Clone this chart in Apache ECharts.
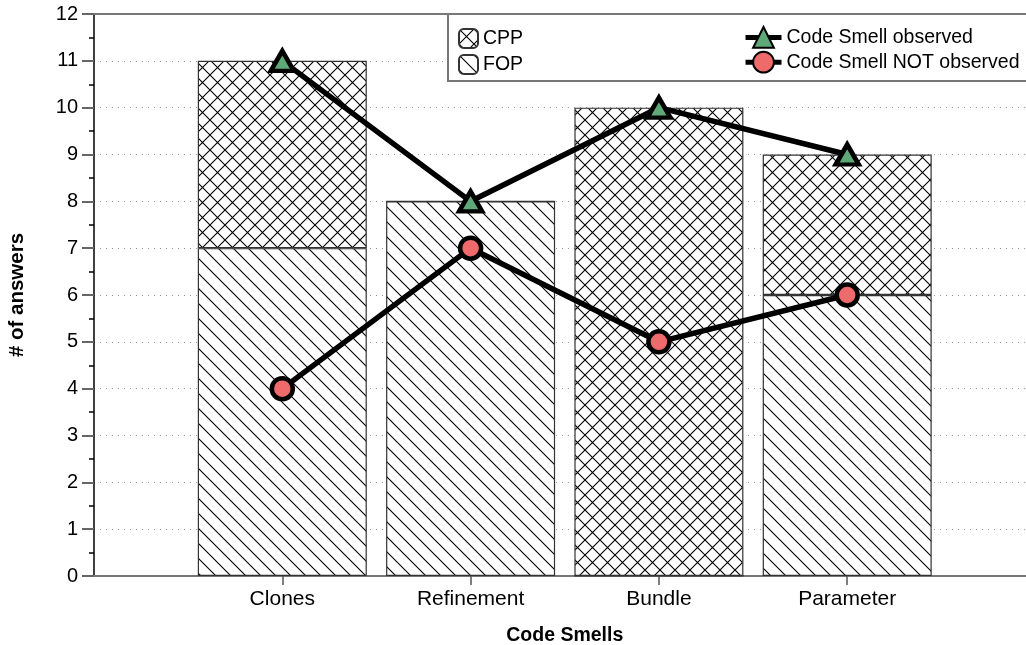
<!DOCTYPE html>
<html>
<head>
<meta charset="utf-8">
<script src="https://cdn.jsdelivr.net/npm/echarts@6/dist/echarts.min.js"></script>
<style>
  html, body { margin: 0; padding: 0; background: #fff; }
  #chart { width: 1026px; height: 645px; }
</style>
</head>
<body>
<div id="chart"></div>
<script>
// Survey answers per code smell
const smells = ['Clones', 'Refinement', 'Bundle', 'Parameter'];
const fopAnswers = [7, 8, 0, 6];
const cppAnswers = [4, 0, 10, 3];
const smellObserved = [11, 8, 10, 9];
const smellNotObserved = [4, 7, 5, 6];
const yTicks = [0, 1, 2, 3, 4, 5, 6, 7, 8, 9, 10, 11, 12];

// empty slots on both sides leave room between the axis and the first/last bar
const pad = arr => [null, ...arr, null];
const cats = ['', ...smells, ''];

const FONT = '"Liberation Sans", Arial, Helvetica, sans-serif';

// hatch tiles: "\" lines for FOP, crossed lines for CPP
function hatch(cross) {
  const s = 15;
  const c = document.createElement('canvas');
  c.width = s; c.height = s;
  const g = c.getContext('2d');
  g.fillStyle = '#fff';
  g.fillRect(0, 0, s, s);
  g.strokeStyle = '#000';
  g.lineWidth = 1.1;
  g.beginPath();
  g.moveTo(-2, -2); g.lineTo(s + 2, s + 2);
  g.moveTo(-2, s - 2); g.lineTo(2, s + 2);
  g.moveTo(s - 2, -2); g.lineTo(s + 2, 2);
  if (cross) {
    g.moveTo(s + 2, -2); g.lineTo(-2, s + 2);
    g.moveTo(2, -2); g.lineTo(-2, 2);
    g.moveTo(s + 2, s - 2); g.lineTo(s - 2, s + 2);
  }
  g.stroke();
  return { image: c, repeat: 'repeat' };
}

const chart = echarts.init(document.getElementById('chart'), null, { renderer: 'canvas' });

chart.setOption({
  animation: false,
  backgroundColor: '#fff',
  textStyle: { fontFamily: FONT },
  grid: { left: 94, right: -9.5, top: 14, bottom: 69, containLabel: false, outerBoundsMode: 'none' },
  graphic: [{
    type: 'rect',
    z: 3,
    shape: { x: 448, y: 14, width: 600, height: 67 },
    style: { fill: '#fff', stroke: '#777', lineWidth: 2 }
  }],
  legend: [{
    data: ['CPP', 'FOP'],
    orient: 'vertical',
    left: 453, top: 23,
    itemWidth: 19, itemHeight: 19, itemGap: 5,
    icon: 'roundRect',
    z: 5,
    textStyle: { fontFamily: FONT, fontSize: 19.5, color: '#000' }
  }, {
    data: ['Code Smell observed', 'Code Smell NOT observed'],
    orient: 'vertical',
    left: 738, top: 21,
    itemWidth: 36, itemHeight: 26, itemGap: 2,
    z: 5,
    lineStyle: { width: 5, color: '#000' },
    textStyle: { fontFamily: FONT, fontSize: 19.5, color: '#000' }
  }],
  xAxis: [{
    type: 'category',
    data: cats,
    boundaryGap: false,
    axisLine: { lineStyle: { color: '#777', width: 2 } },
    axisTick: {
      interval: i => i >= 1 && i <= smells.length,
      length: 9,
      lineStyle: { color: '#555', width: 1.5 }
    },
    axisLabel: {
      interval: 0,
      margin: 13,
      fontFamily: FONT, fontSize: 21, color: '#000'
    },
    splitLine: { show: false },
    name: 'Code Smells',
    nameLocation: 'middle',
    nameGap: 50,
    nameTextStyle: { fontFamily: FONT, fontSize: 19.5, fontWeight: 'bold', color: '#000' }
  }, {
    type: 'category',
    data: cats,
    boundaryGap: false,
    position: 'top',
    axisLine: { lineStyle: { color: '#777', width: 2 } },
    axisTick: { show: false },
    axisLabel: { show: false },
    splitLine: { show: false }
  }],
  yAxis: {
    type: 'value',
    min: yTicks[0],
    max: yTicks[yTicks.length - 1],
    interval: 1,
    axisLine: { show: true, lineStyle: { color: '#000', width: 1.5 } },
    axisTick: { show: true, length: 12, lineStyle: { color: '#666', width: 2 } },
    minorTick: { show: true, splitNumber: 2, length: 5, lineStyle: { color: '#000', width: 1.5 } },
    axisLabel: {
      margin: 16,
      fontFamily: FONT, fontSize: 20, color: '#000',
      formatter: v => (yTicks.includes(v) ? String(v) : '')
    },
    splitLine: {
      show: true,
      lineStyle: { color: '#999', width: 1, type: [1, 5] }
    },
    name: '# of answers',
    nameLocation: 'middle',
    nameRotate: 90,
    nameGap: 66,
    nameTextStyle: { fontFamily: FONT, fontSize: 20.5, fontWeight: 'bold', color: '#000' }
  },
  series: [{
    name: 'FOP',
    type: 'bar',
    stack: 'lang',
    barWidth: 169,
    data: pad(fopAnswers),
    itemStyle: { color: hatch(false), borderColor: '#333', borderWidth: 1.2 },
    emphasis: { disabled: true },
    z: 1
  }, {
    name: 'CPP',
    type: 'bar',
    stack: 'lang',
    barWidth: 169,
    data: pad(cppAnswers),
    itemStyle: { color: hatch(true), borderColor: '#333', borderWidth: 1.2 },
    emphasis: { disabled: true },
    z: 1
  }, {
    name: 'Code Smell observed',
    type: 'line',
    data: pad(smellObserved),
    symbol: 'triangle',
    symbolSize: [23, 20],
    lineStyle: { color: '#000', width: 5.5 },
    itemStyle: { color: '#5fa878', borderColor: '#000', borderWidth: 4.5 },
    emphasis: { disabled: true },
    z: 4
  }, {
    name: 'Code Smell NOT observed',
    type: 'line',
    data: pad(smellNotObserved),
    symbol: 'circle',
    symbolSize: 21,
    lineStyle: { color: '#000', width: 5.5 },
    itemStyle: { color: '#ef6b6b', borderColor: '#000', borderWidth: 4.5 },
    emphasis: { disabled: true },
    z: 4
  }]
});
</script>
</body>
</html>
